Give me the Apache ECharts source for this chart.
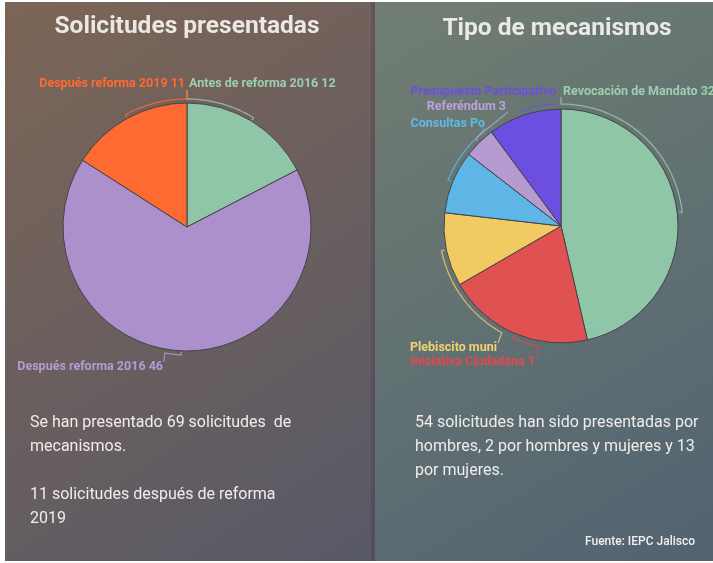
<!DOCTYPE html>
<html>
<head>
<meta charset="utf-8">
<script src="https://cdn.jsdelivr.net/npm/echarts@6/dist/echarts.min.js"></script>
<style>
  html, body { margin: 0; padding: 0; background: #ffffff; }
  #chart { width: 713px; height: 563px; }
</style>
</head>
<body>
<div id="chart"></div>
<script>
// Solicitudes presentadas
const solicitudNames = ['Antes de reforma 2016', 'Después reforma 2016', 'Después reforma 2019'];
const solicitudValues = [12, 46, 11];

// Tipo de mecanismos
const mecanismoNames = ['Revocación de Mandato', 'Iniciativa Ciudadana', 'Plebiscito municipal',
  'Consultas Populares', 'Referéndum', 'Presupuesto Participativo'];
const mecanismoValues = [32, 14, 7, 6, 3, 7];

const solicitudColors = ['#8fc6a7', '#ab90cb', '#ff6a33'];
const solicitudLabelColors = ['#9ccfb1', '#b39dd6', '#ff6a33'];
const mecanismoColors = ['#8fc6a7', '#e05252', '#f2ca62', '#5db6e6', '#b59bd0', '#6c4fe0'];
const mecanismoLabelColors = ['#9ccfb1', '#e4484e', '#f1d36c', '#5fb8e8', '#b9a2dc', '#6c4fe0'];

// Leader placement for each slice: arc from the slice middle to `anchor` (deg, clockwise from top),
// then a straight segment to `end`, label text aligned at (x, y).
const solicitudLayout = [
  { anchor: 0, end: [187, 90], x: 189, y: 84, align: 'left' },
  { anchor: 190, end: [164, 362], x: 163, y: 367, align: 'right' },
  { anchor: 360, end: [187, 90], x: 185, y: 84, align: 'right' }
];
const mecanismoLayout = [
  { anchor: 0, end: [561, 97], x: 563, y: 92, align: 'left' },
  { anchor: 191, end: [538, 356], x: 535, y: 362, align: 'right' },
  { anchor: 209, end: [498, 343], x: 497, y: 348, align: 'right' },
  { anchor: 318, end: [485, 128], x: 485, y: 124, align: 'right' },
  { anchor: 323, end: [508, 112], x: 506, y: 107, align: 'right' },
  { anchor: 356, end: [557, 97], x: 556, y: 92, align: 'right' }
];

function pieSeries(names, values, colors, center, radius) {
  return {
    type: 'pie',
    center: center,
    radius: radius,
    startAngle: 90,
    clockwise: true,
    silent: true,
    animation: false,
    label: { show: false },
    labelLine: { show: false },
    itemStyle: { borderColor: '#45424c', borderWidth: 1 },
    data: names.map((n, i) => ({ name: n, value: values[i], itemStyle: { color: colors[i] } }))
  };
}

function leaderSeries(names, values, colors, center, radius, layout, minX, maxX) {
  const total = values.reduce((a, b) => a + b, 0);
  const starts = [];
  let acc = 0;
  values.forEach(v => { starts.push(acc / total * 360); acc += v; });
  const cx = center[0], cy = center[1];
  const pt = (ang, rad) => {
    const a = ang * Math.PI / 180;
    return [cx + rad * Math.sin(a), cy - rad * Math.cos(a)];
  };
  return {
    type: 'custom',
    coordinateSystem: 'none',
    silent: true,
    animation: false,
    z: 5,
    data: values.map((v, i) => [i, v]),
    renderItem: function (params, api) {
      const i = params.dataIndex;
      const v = api.value(1);
      const mid = starts[i] + v / total * 180;
      const L = layout[i];
      const pts = [pt(mid, radius - 3)];
      const n = 30;
      for (let k = 0; k <= n; k++) {
        pts.push(pt(mid + (L.anchor - mid) * k / n, radius));
      }
      pts.push(L.end);
      const width = L.align === 'right' ? L.x - minX : maxX - L.x;
      return {
        type: 'group',
        children: [
          {
            type: 'polyline',
            shape: { points: pts },
            style: { stroke: colors[i], lineWidth: 1.3, fill: null, opacity: 0.75 }
          },
          {
            type: 'text',
            style: {
              text: names[i] + ' ' + v,
              x: L.x, y: L.y,
              align: L.align, verticalAlign: 'middle',
              fill: colors[i],
              font: 'bold 12.5px Roboto',
              width: width,
              overflow: 'truncate',
              ellipsis: ''
            }
          }
        ]
      };
    }
  };
}

const chart = echarts.init(document.getElementById('chart'), null, { renderer: 'canvas' });

const textFill = '#f1ede9';

chart.setOption({
  animation: false,
  backgroundColor: '#ffffff',
  graphic: [
    {
      type: 'rect', z: -10, silent: true,
      shape: { x: 5, y: 2, width: 370, height: 559 },
      style: {
        fill: new echarts.graphic.LinearGradient(0, 0, 1, 1, [
          { offset: 0, color: '#7c6556' },
          { offset: 1, color: '#585967' }
        ])
      }
    },
    {
      type: 'rect', z: -10, silent: true,
      shape: { x: 375, y: 2, width: 338, height: 559 },
      style: {
        fill: new echarts.graphic.LinearGradient(0, 0, 1, 1, [
          { offset: 0, color: '#717e72' },
          { offset: 1, color: '#526371' }
        ])
      }
    },
    {
      type: 'rect', z: -9, silent: true,
      shape: { x: 371, y: 2, width: 4, height: 559 },
      style: { fill: 'rgba(70,45,70,0.25)' }
    },
    {
      type: 'text', silent: true,
      style: { text: 'Solicitudes presentadas', x: 187, y: 27, align: 'center', verticalAlign: 'middle',
        fill: '#ebe7e3', font: 'bold 24.5px Roboto' }
    },
    {
      type: 'text', silent: true,
      style: { text: 'Tipo de mecanismos', x: 557, y: 29, align: 'center', verticalAlign: 'middle',
        fill: '#ebe9e7', font: 'bold 24.5px Roboto' }
    },
    {
      type: 'text', silent: true,
      style: { text: 'Se han presentado 69 solicitudes  de\nmecanismos.\n\n11 solicitudes después de reforma\n2019',
        x: 30, y: 411, align: 'left', verticalAlign: 'top', lineHeight: 24,
        fill: textFill, font: '16px Roboto' }
    },
    {
      type: 'text', silent: true,
      style: { text: '54 solicitudes han sido presentadas por\nhombres, 2 por hombres y mujeres y 13\npor mujeres.',
        x: 415, y: 411, align: 'left', verticalAlign: 'top', lineHeight: 24,
        fill: textFill, font: '16px Roboto' }
    },
    {
      type: 'text', silent: true,
      style: { text: 'Fuente: IEPC Jalisco', x: 695, y: 542, align: 'right', verticalAlign: 'middle',
        fill: '#f0f0f0', font: '500 12px Roboto' }
    }
  ],
  series: [
    pieSeries(solicitudNames, solicitudValues, solicitudColors, [187, 227], 124),
    leaderSeries(solicitudNames, solicitudValues, solicitudLabelColors, [187, 227], 128, solicitudLayout, 8, 370),
    pieSeries(mecanismoNames, mecanismoValues, mecanismoColors, [561, 226], 117),
    leaderSeries(mecanismoNames, mecanismoValues, mecanismoLabelColors, [561, 226], 122, mecanismoLayout, 405, 720)
  ]
});
</script>
</body>
</html>
